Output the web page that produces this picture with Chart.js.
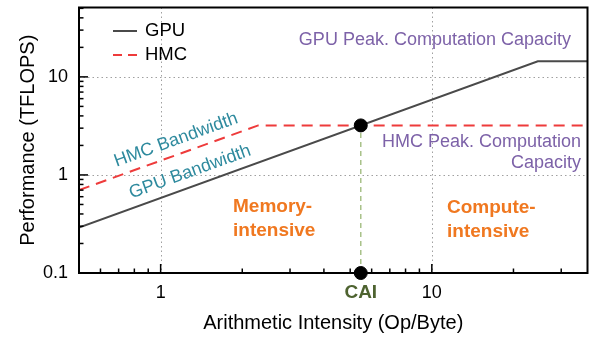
<!DOCTYPE html>
<html>
<head>
<meta charset="utf-8">
<script src="https://cdn.jsdelivr.net/npm/chart.js@4.4.1/dist/chart.umd.min.js"></script>
<style>
  body { margin: 0; background: #fff; }
</style>
</head>
<body>
<canvas id="myChart" width="595" height="343"></canvas>
<script>
// roofline data
const gpuAI = [0.5, 24.6, 37.5];
const gpuPerf = [0.29, 14.4, 14.4];
const hmcAI = [0.5, 2.29, 37.5];
const hmcPerf = [0.7, 3.2, 3.2];
const caiX = [5.47, 5.47];
const caiY = [0.1, 3.2];
const xTicks = [1, 10];
const yTicks = [0.1, 1, 10];

const FONT = "'Liberation Sans', Arial, sans-serif";

const toPoints = (xs, ys) => xs.map((x, i) => ({x: x, y: ys[i]}));

// frame, grid, minor ticks, legend and the text labels
const decor = {
    id: 'decor',
    beforeDatasetsDraw(chart) {
        const ctx = chart.ctx;
        const a = chart.chartArea;
        const xs = chart.scales.x, ys = chart.scales.y;
        ctx.save();
        ctx.strokeStyle = '#a0a0a0';
        ctx.lineWidth = 1;
        ctx.setLineDash([1.5, 3]);
        xTicks.forEach(v => {
            const px = Math.round(xs.getPixelForValue(v)) + 0.5;
            ctx.beginPath(); ctx.moveTo(px, a.top); ctx.lineTo(px, a.bottom); ctx.stroke();
        });
        yTicks.forEach(v => {
            if (v <= ys.min) return;
            const py = Math.round(ys.getPixelForValue(v)) + 0.5;
            ctx.beginPath(); ctx.moveTo(a.left, py); ctx.lineTo(a.right, py); ctx.stroke();
        });
        ctx.restore();
    },
    afterDraw(chart) {
        const ctx = chart.ctx;
        const a = chart.chartArea;
        const xs = chart.scales.x, ys = chart.scales.y;
        ctx.save();
        // ticks (inward)
        ctx.strokeStyle = '#000';
        ctx.lineWidth = 1.5;
        for (let d = 0.1; d <= 10; d *= 10) {
            for (let k = 1; k < 10; k++) {
                const v = +(d * k).toPrecision(3);
                const len = k === 1 ? 9 : 4.5;
                if (v >= xs.min && v <= xs.max) {
                    const px = xs.getPixelForValue(v);
                    ctx.beginPath(); ctx.moveTo(px, a.bottom); ctx.lineTo(px, a.bottom - len); ctx.stroke();
                }
                if (v >= ys.min && v <= ys.max) {
                    const py = ys.getPixelForValue(v);
                    ctx.beginPath(); ctx.moveTo(a.left, py); ctx.lineTo(a.left + len, py); ctx.stroke();
                }
            }
        }
        // frame
        ctx.lineWidth = 2;
        ctx.strokeRect(a.left, a.top, a.right - a.left, a.bottom - a.top);

        // legend
        ctx.lineWidth = 2;
        ctx.strokeStyle = '#4a4a4a';
        ctx.beginPath(); ctx.moveTo(113, 31); ctx.lineTo(137, 31); ctx.stroke();
        ctx.strokeStyle = '#ee3b3b';
        ctx.setLineDash([9, 6]);
        ctx.beginPath(); ctx.moveTo(113, 55); ctx.lineTo(137, 55); ctx.stroke();
        ctx.setLineDash([]);
        ctx.fillStyle = '#000';
        ctx.font = '18.5px ' + FONT;
        ctx.textBaseline = 'middle';
        ctx.textAlign = 'left';
        ctx.fillText('GPU', 145, 31);
        ctx.fillText('HMC', 145, 55);

        // peak labels
        ctx.font = '18px ' + FONT;
        ctx.fillStyle = '#7d62a8';
        ctx.textAlign = 'right';
        ctx.fillText('GPU Peak. Computation Capacity', 571, 40);
        ctx.fillText('HMC Peak. Computation', 581, 142);
        ctx.fillText('Capacity', 581, 163);

        // bandwidth labels along the slope
        const ang = -Math.atan((ys.getPixelForValue(1) - ys.getPixelForValue(10)) /
                               (xs.getPixelForValue(10) - xs.getPixelForValue(1)));
        ctx.fillStyle = '#2e8a9e';
        ctx.textAlign = 'center';
        [['HMC Bandwidth', 176, 140], ['GPU Bandwidth', 190, 172]].forEach(t => {
            ctx.save();
            ctx.translate(t[1], t[2]);
            ctx.rotate(ang);
            ctx.fillText(t[0], 0, 0);
            ctx.restore();
        });

        // regions
        ctx.fillStyle = '#f07820';
        ctx.font = 'bold 19px ' + FONT;
        ctx.textAlign = 'left';
        ctx.fillText('Memory-', 233, 207);
        ctx.fillText('intensive', 233, 231);
        ctx.fillText('Compute-', 447, 208);
        ctx.fillText('intensive', 447, 232);

        // CAI label
        ctx.fillStyle = '#4e6330';
        ctx.textAlign = 'center';
        ctx.fillText('CAI', xs.getPixelForValue(caiX[0]), 293);
        ctx.restore();
    }
};

const ctx = document.getElementById('myChart').getContext('2d');
const rooflineChart = new Chart(ctx, {
    type: 'scatter',
    data: {
        datasets: [
            {
                label: 'CAI line',
                data: toPoints(caiX, caiY),
                showLine: true,
                borderColor: '#a9c28a',
                borderWidth: 1.5,
                borderDash: [5, 4],
                pointRadius: 0,
                order: 3
            },
            {
                label: 'HMC',
                data: toPoints(hmcAI, hmcPerf),
                showLine: true,
                borderColor: '#ee3b3b',
                borderWidth: 2,
                borderDash: [11, 7],
                pointRadius: 0,
                order: 2
            },
            {
                label: 'GPU',
                data: toPoints(gpuAI, gpuPerf),
                showLine: true,
                borderColor: '#4a4a4a',
                borderWidth: 2,
                pointRadius: 0,
                order: 1
            },
            {
                label: 'CAI',
                data: toPoints(caiX, caiY),
                showLine: false,
                pointRadius: 6.5,
                pointBackgroundColor: '#000',
                pointBorderColor: '#000',
                clip: false,
                order: 0
            }
        ]
    },
    options: {
        responsive: false,
        animation: false,
        devicePixelRatio: 1,
        layout: { padding: { top: 3, right: 7, left: 0, bottom: 0 } },
        plugins: { legend: { display: false }, tooltip: { enabled: false } },
        scales: {
            x: {
                type: 'logarithmic',
                min: 0.5,
                max: 37.5,
                afterBuildTicks: scale => { scale.ticks = xTicks.map(v => ({value: v})); },
                afterFit: scale => { scale.height = 70; scale.paddingLeft = 0; scale.paddingRight = 0; },
                grid: { display: false, drawTicks: false },
                border: { display: false },
                ticks: {
                    autoSkip: false, maxRotation: 0, padding: 9,
                    color: '#000', font: { family: FONT, size: 18 },
                    callback: v => String(v)
                },
                title: {
                    display: true, text: 'Arithmetic Intensity (Op/Byte)',
                    color: '#000', font: { family: FONT, size: 20 },
                    padding: { top: 0, bottom: 8 }
                }
            },
            y: {
                type: 'logarithmic',
                min: 0.1,
                max: 51,
                afterBuildTicks: scale => { scale.ticks = yTicks.map(v => ({value: v})); },
                afterFit: scale => { scale.width = 79; scale.paddingTop = 0; scale.paddingBottom = 0; },
                grid: { display: false, drawTicks: false },
                border: { display: false },
                ticks: {
                    autoSkip: false, padding: 11,
                    color: '#000', font: { family: FONT, size: 18 },
                    callback: v => String(v)
                },
                title: {
                    display: true, text: 'Performance (TFLOPS)',
                    color: '#000', font: { family: FONT, size: 20 },
                    padding: { top: 16, bottom: 0 }
                }
            }
        }
    },
    plugins: [decor]
});
</script>
</body>
</html>
